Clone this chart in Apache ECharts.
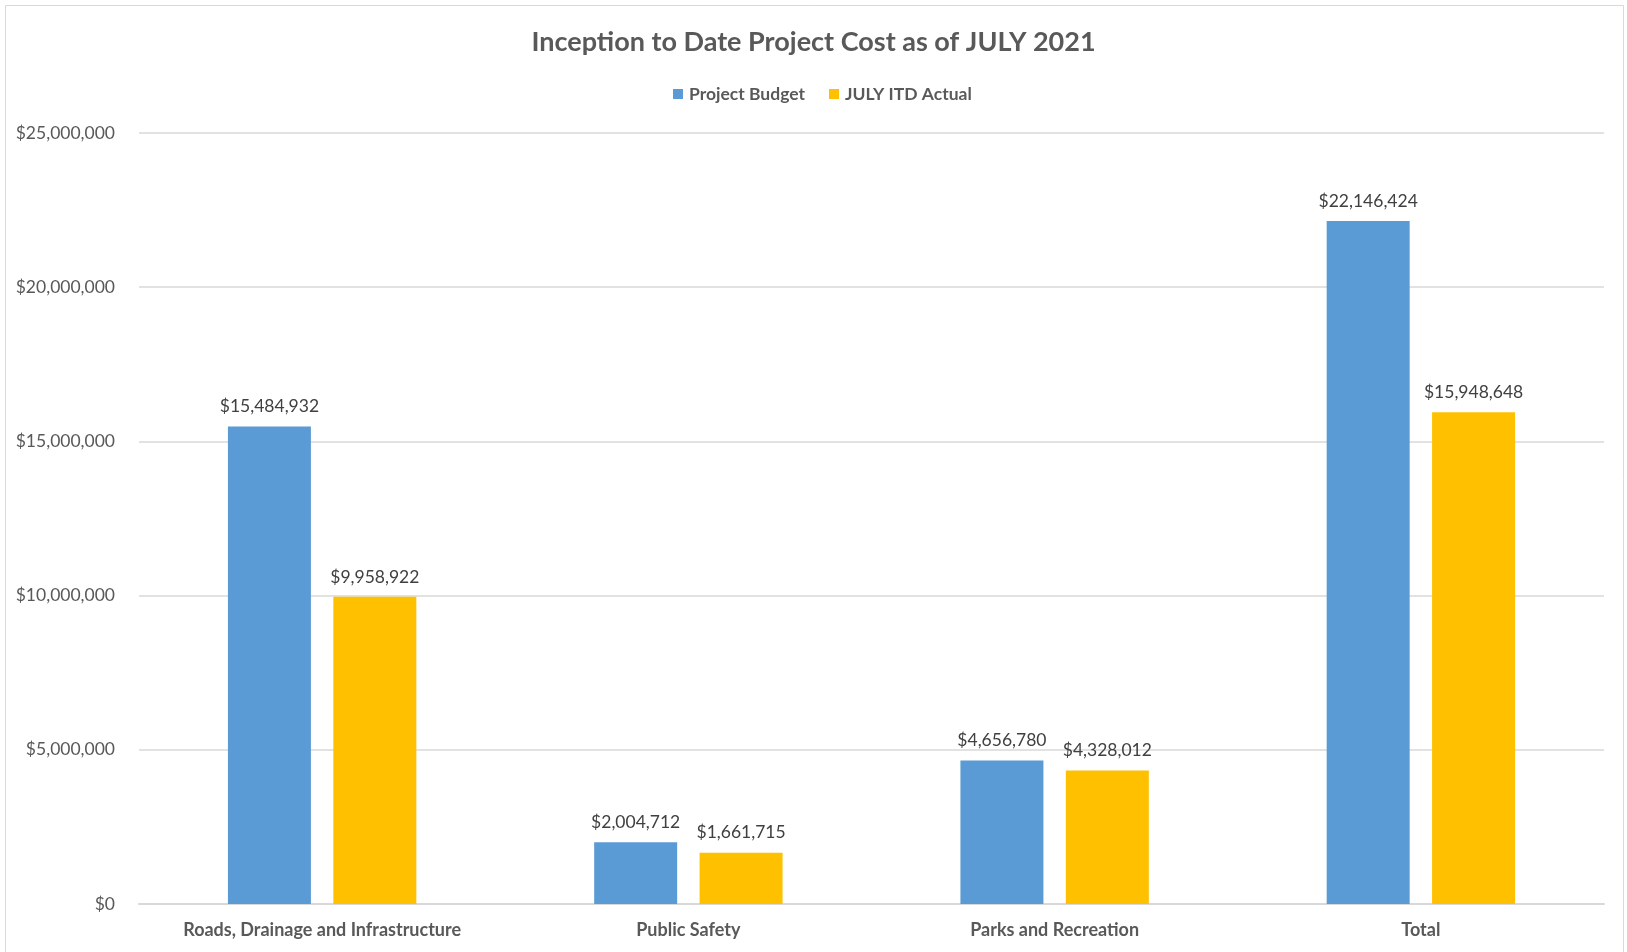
<!DOCTYPE html>
<html>
<head>
<meta charset="utf-8">
<script src="https://cdn.jsdelivr.net/npm/echarts@6/dist/echarts.min.js"></script>
<style>
html,body{margin:0;padding:0;background:#fff;}
#chart{width:1627px;height:952px;}
</style>
</head>
<body>
<div id="chart"></div>
<script>
const categories = ['Roads, Drainage and Infrastructure', 'Public Safety', 'Parks and Recreation', 'Total'];
const seriesNames = ['Project Budget', 'JULY ITD Actual'];
const projectBudget = [15484932, 2004712, 4656780, 22146424];
const itdActual = [9958922, 1661715, 4328012, 15948648];
const yMin = 0, yMax = 25000000, yInterval = 5000000;

const FONT = 'Lato, "Noto Sans", sans-serif';
const money = v => '$' + Number(v).toLocaleString('en-US');

const chart = echarts.init(document.getElementById('chart'));
chart.setOption({
  backgroundColor: '#fff',
  animation: false,
  textStyle: { fontFamily: FONT },
  graphic: [{
    type: 'rect', silent: true,
    shape: { x: 5.5, y: 5.5, width: 1618, height: 960 },
    style: { fill: 'none', stroke: '#d9d9d9', lineWidth: 1 }
  }],
  title: {
    text: 'Inception to Date Project Cost as of JULY 2021',
    left: 'center', top: 24,
    textStyle: { fontFamily: FONT, fontSize: 27, fontWeight: 'bold', color: '#595959' }
  },
  legend: {
    data: seriesNames,
    top: 80, left: 668,
    icon: 'rect', itemWidth: 10, itemHeight: 10, itemGap: 24,
    textStyle: { fontFamily: FONT, fontSize: 17.5, fontWeight: 'bold', color: '#595959', padding: [0, 0, 0, 1] }
  },
  grid: { left: 139, right: 23, top: 133, bottom: 48, containLabel: false },
  xAxis: {
    type: 'category',
    data: categories,
    axisLine: { lineStyle: { color: '#d9d9d9', width: 2 } },
    axisTick: { show: false },
    axisLabel: { fontFamily: FONT, fontSize: 18, fontWeight: 'bold', color: '#595959', margin: 17 }
  },
  yAxis: {
    type: 'value',
    min: yMin, max: yMax, interval: yInterval,
    axisLine: { show: false },
    axisTick: { show: false },
    splitLine: { lineStyle: { color: '#d9d9d9', width: 1.5 } },
    axisLabel: { fontFamily: FONT, fontSize: 17.5, color: '#595959', margin: 24, formatter: money }
  },
  series: [
    {
      name: seriesNames[0], type: 'bar', data: projectBudget,
      barWidth: 83, barGap: '27%',
      itemStyle: { color: '#5B9BD5' },
      label: { show: true, position: 'top', distance: 11, fontFamily: FONT, fontSize: 17.5, color: '#404040', formatter: p => money(p.value) }
    },
    {
      name: seriesNames[1], type: 'bar', data: itdActual,
      barWidth: 83, barGap: '27%',
      itemStyle: { color: '#FFC000' },
      label: { show: true, position: 'top', distance: 11, fontFamily: FONT, fontSize: 17.5, color: '#404040', formatter: p => money(p.value) }
    }
  ]
});
</script>
</body>
</html>
